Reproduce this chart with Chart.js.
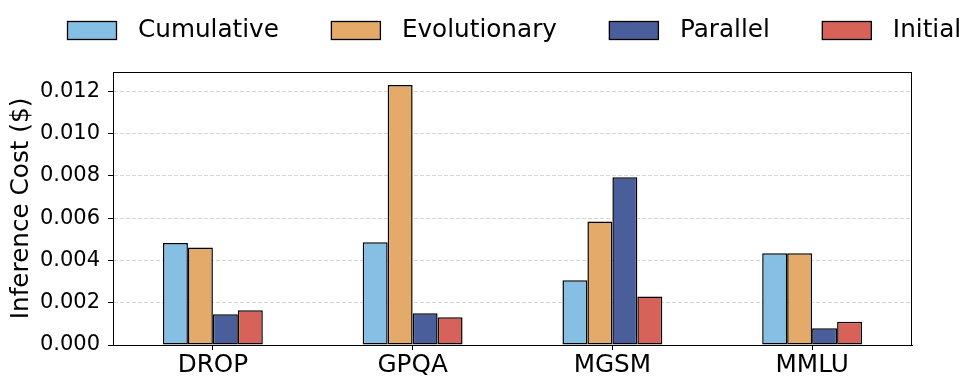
<!DOCTYPE html>
<html>
<head>
<meta charset="utf-8">
<script src="https://cdn.jsdelivr.net/npm/chart.js@4/dist/chart.umd.min.js"></script>
<style>
html,body{margin:0;padding:0;background:#fff;}
#wrap{width:977px;height:389px;}
</style>
</head>
<body>
<div id="wrap"><canvas id="c" width="977" height="389"></canvas></div>
<script>
const categories = ['DROP', 'GPQA', 'MGSM', 'MMLU'];
const seriesNames = ['Cumulative', 'Evolutionary', 'Parallel', 'Initial'];
const cumulative   = [0.00482, 0.00486, 0.00306, 0.00434];
const evolutionary = [0.00461, 0.01230, 0.00584, 0.00434];
const parallel     = [0.00145, 0.00150, 0.00794, 0.00079];
const initial      = [0.00164, 0.00131, 0.00230, 0.00110];
const yTicks = [0.000, 0.002, 0.004, 0.006, 0.008, 0.010, 0.012];
const yMax = 0.012915;

const colors = ['#86BFE4', '#E4AA6A', '#4A5E9B', '#D6625A'];
const FONT = '"DejaVu Sans", sans-serif';
const BIG = 24.7;

const frameAndLegend = {
  id: 'frameAndLegend',
  afterDraw(chart) {
    const ctx = chart.ctx;
    const a = chart.chartArea;
    ctx.save();
    ctx.strokeStyle = '#000';
    ctx.lineWidth = 1;
    ctx.strokeRect(Math.round(a.left) + 0.5, Math.round(a.top) + 0.5,
                   Math.round(a.right - a.left) - 1, Math.round(a.bottom - a.top));
    // legend
    const ds = chart.data.datasets;
    ctx.font = BIG + 'px ' + FONT;
    const boxW = 50, boxH = 19, textGap = 21, itemGap = 52;
    const widths = ds.map(d => boxW + textGap + ctx.measureText(d.label).width);
    const total = widths.reduce((s, w) => s + w, 0) + itemGap * (ds.length - 1);
    let x = Math.round((a.left + a.right) / 2 + 1.5 - total / 2);
    const yc = 30.5;
    ds.forEach((d, i) => {
      ctx.fillStyle = d.backgroundColor;
      ctx.fillRect(x, yc - boxH / 2, boxW, boxH);
      ctx.strokeStyle = '#000';
      ctx.lineWidth = 1.3;
      ctx.strokeRect(x + 0.5, Math.round(yc - boxH / 2) + 0.5, boxW - 1, boxH - 1);
      ctx.fillStyle = '#000';
      ctx.textAlign = 'left';
      ctx.textBaseline = 'middle';
      ctx.fillText(d.label, x + boxW + textGap, yc);
      x += widths[i] + itemGap;
    });
    ctx.restore();
  }
};

const seriesData = [cumulative, evolutionary, parallel, initial];

new Chart(document.getElementById('c'), {
  type: 'bar',
  data: {
    labels: categories,
    datasets: seriesNames.map((n, i) => ({
      label: n,
      data: seriesData[i],
      backgroundColor: colors[i],
      borderColor: '#000',
      borderWidth: 1.5,
      borderSkipped: false,
      categoryPercentage: 0.5,
      barPercentage: 1.0
    }))
  },
  options: {
    responsive: false,
    animation: false,
    devicePixelRatio: 1,
    layout: { padding: { top: 72, right: 65, left: 0, bottom: 0 } },
    plugins: {
      legend: { display: false },
      tooltip: { enabled: false }
    },
    scales: {
      x: {
        offset: true,
        grid: {
          display: true,
          offset: false,
          drawOnChartArea: false,
          drawTicks: true,
          tickLength: 5,
          tickColor: '#000',
          tickWidth: 1
        },
        border: { display: true, color: '#000', width: 1 },
        ticks: {
          color: '#000',
          padding: 1,
          font: { family: FONT, size: BIG }
        },
        afterFit(scale) { scale.height = 44; }
      },
      y: {
        min: 0,
        max: yMax,
        afterBuildTicks(scale) { scale.ticks = yTicks.map(v => ({ value: v })); },
        grid: {
          display: true,
          color: '#cccccc',
          lineWidth: 0.8,
          drawTicks: true,
          tickLength: 5,
          tickColor: '#000',
          tickWidth: 1
        },
        border: { display: true, color: '#000', width: 1, dash: [4, 2] },
        ticks: {
          color: '#000',
          padding: 8,
          font: { family: FONT, size: 21 },
          callback: v => Number(v).toFixed(3)
        },
        title: {
          display: true,
          text: 'Inference Cost ($)',
          color: '#000',
          font: { family: FONT, size: BIG },
          padding: { top: 7, bottom: 0 }
        },
        afterFit(scale) { scale.width = 113; }
      }
    }
  },
  plugins: [frameAndLegend]
});
</script>
</body>
</html>
